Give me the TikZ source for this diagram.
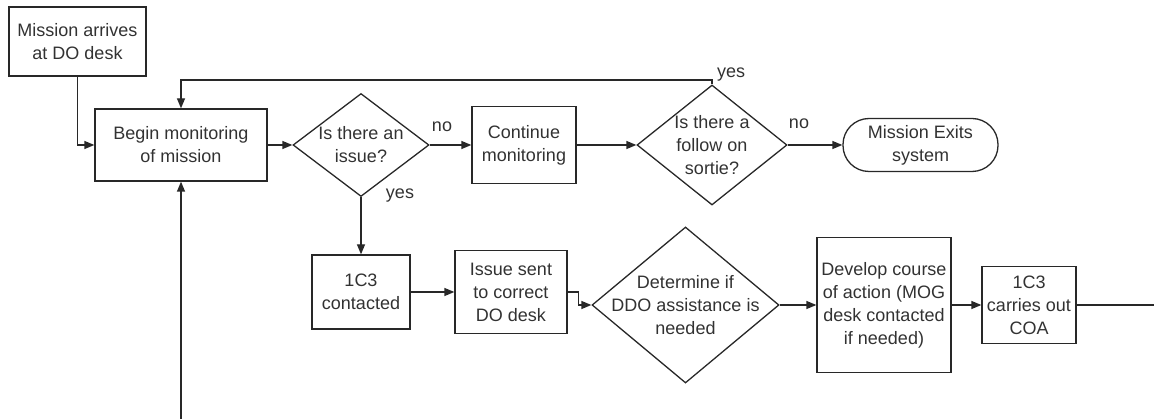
\documentclass[tikz,border=0pt]{standalone}
\usepackage{fontspec}
\setmainfont{Liberation Sans}
\usetikzlibrary{arrows.meta,shapes.geometric}
\definecolor{ln}{RGB}{40,40,40}
\definecolor{tx}{RGB}{50,50,50}
\begin{document}
\begin{tikzpicture}[x=1pt,y=-1pt,
  every node/.style={font=\fontsize{18}{23}\selectfont, text=tx},
  box/.style={draw=ln, line width=1.3pt, align=center, inner sep=0pt, rectangle},
  dia/.style={draw=ln, line width=1.3pt, diamond, inner sep=0pt},
  term/.style={draw=ln, line width=1.3pt, rounded corners=26pt, align=center, inner sep=0pt, rectangle},
  lbl/.style={inner sep=0pt},
  conn/.style={draw=ln, line width=1.3pt},
  arr/.style={conn, -{Triangle[length=10pt,width=8pt]}}]
\useasboundingbox (0,0) rectangle (1154,419);

% nodes
\node[box, minimum width=137pt, minimum height=69pt] (A) at (77.5,41.5) {Mission arrives\\at DO desk};
\node[box, minimum width=172pt, minimum height=72pt] (B) at (181,145) {Begin monitoring\\of mission};
\node[dia, minimum width=136pt, minimum height=103pt,
      label={[name=D1t,align=center,inner sep=0pt]center:{Is there an\\issue?}}] (D1) at (361,145) {};
\node[box, minimum width=104pt, minimum height=77pt] (C) at (524,145) {Continue\\monitoring};
\node[dia, minimum width=150pt, minimum height=120pt,
      label={[name=D2t,align=center,inner sep=0pt]center:{Is there a\\follow on\\sortie?}}] (D2) at (712,145) {};
\node[term, minimum width=155pt, minimum height=53pt] (E) at (920.5,145) {Mission Exits\\system};
\node[box, minimum width=98pt, minimum height=74pt] (F) at (361,292) {1C3\\contacted};
\node[box, minimum width=112pt, minimum height=83pt] (G) at (511,292) {Issue sent\\to correct\\DO desk};
\node[dia, minimum width=187pt, minimum height=156pt,
      label={[name=D3t,align=center,inner sep=0pt]center:{Determine if\\DDO assistance is\\needed}}] (D3) at (685.5,305) {};
\node[box, minimum width=134pt, minimum height=135pt] (H) at (884,305) {Develop course\\of action (MOG\\desk contacted\\if needed)};
\node[box, minimum width=94pt, minimum height=77pt] (I) at (1029,305) {1C3\\carries out\\COA};

% labels
\node[lbl] (yes1) at (731,75) {yes};
\node[lbl] (no1) at (442,127) {no};
\node[lbl] (no2) at (799,124) {no};
\node[lbl] (yes2) at (400,196) {yes};

% free ends
\coordinate (loopy) at (0,80);
\coordinate (out) at (1154,305);
\coordinate (bot) at (181,419);

% connectors
\draw[arr] (A.south) |- (B.west);
\draw[arr] (B.east) -- (D1.west);
\draw[arr] (D1.east) -- (C.west);
\draw[arr] (C.east) -- (D2.west);
\draw[arr] (D2.east) -- (E.west);
\draw[arr] (D2.north) |- (loopy -| B.north) -- (B.north);
\draw[arr] (D1.south) -- (F.north);
\draw[arr] (F.east) -- (G.west);
\draw[arr] (G.east) -- ++(11,0) |- (D3.west);
\draw[arr] (D3.east) -- (H.west);
\draw[arr] (H.east) -- (I.west);
\draw[conn] (I.east) -- (out);
\draw[arr] (bot) -- (B.south);
\end{tikzpicture}
\end{document}
